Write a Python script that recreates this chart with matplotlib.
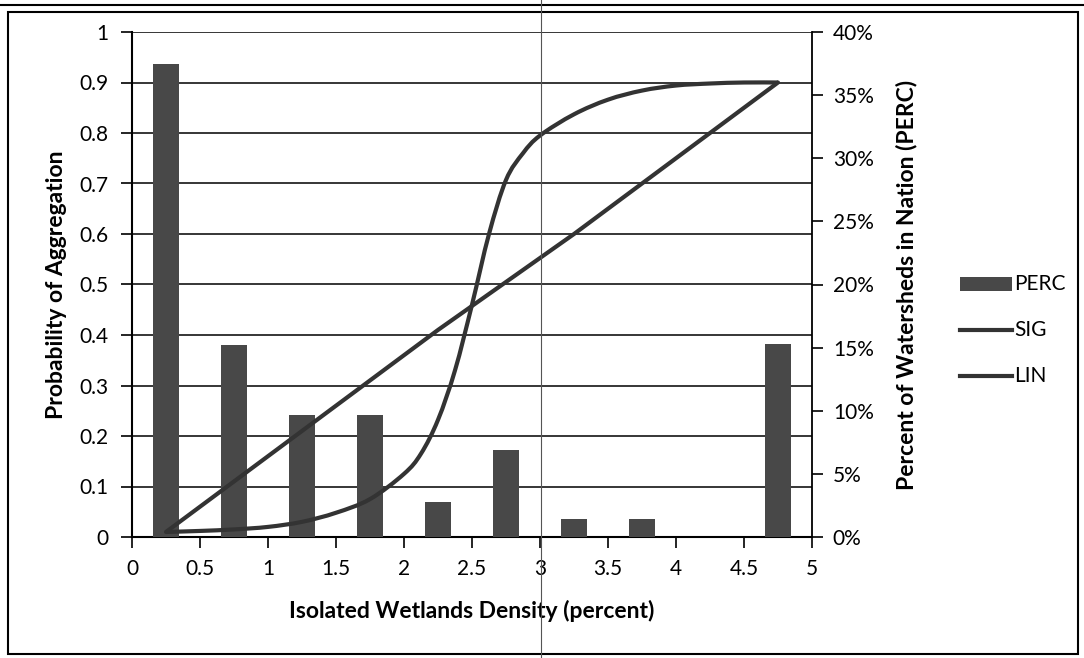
import matplotlib.pyplot as plt
from matplotlib.lines import Line2D
from matplotlib.patches import Rectangle, PathPatch
from matplotlib.path import Path
from matplotlib.ticker import FuncFormatter, MultipleLocator

plt.rcParams['font.family'] = ['Lato', 'DejaVu Sans']

# Données
bin_centers = [0.25, 0.75, 1.25, 1.75, 2.25, 2.75, 3.25, 3.75, 4.25, 4.75]
perc = [37.5, 15.2, 9.7, 9.7, 2.8, 6.9, 1.4, 1.4, 0.0, 15.3]   # % des bassins
lin = [0.01, 0.11, 0.21, 0.31, 0.41, 0.505, 0.60, 0.70, 0.80, 0.90]

sig_x = [0.25, 0.5, 0.75, 1.0, 1.25, 1.5, 1.75, 2.0, 2.125, 2.25, 2.375, 2.5,
         2.625, 2.75, 2.875, 3.0, 3.25, 3.5, 3.75, 4.0, 4.25, 4.5, 4.75]
sig = [0.01, 0.012, 0.015, 0.02, 0.03, 0.048, 0.075, 0.125, 0.165, 0.232, 0.33,
       0.46, 0.60, 0.707, 0.76, 0.795, 0.837, 0.866, 0.884, 0.894, 0.898, 0.90, 0.90]

x_ticks = [0, 0.5, 1, 1.5, 2, 2.5, 3, 3.5, 4, 4.5, 5]
legend_labels = ['PERC', 'SIG', 'LIN']

bar_col = '#484848'
line_col = '#333333'
W, H = 1084, 658


# Courbe lissée (style Excel) : Catmull-Rom -> Bézier
def smooth_path(xs, ys):
    pts = list(zip(xs, ys))
    verts = [pts[0]]
    codes = [Path.MOVETO]
    n = len(pts)
    for i in range(n - 1):
        p0 = pts[i - 1] if i > 0 else pts[i]
        p1 = pts[i]
        p2 = pts[i + 1]
        p3 = pts[i + 2] if i + 2 < n else pts[i + 1]
        c1 = (p1[0] + (p2[0] - p0[0]) / 6, p1[1] + (p2[1] - p0[1]) / 6)
        c2 = (p2[0] - (p3[0] - p1[0]) / 6, p2[1] - (p3[1] - p1[1]) / 6)
        verts += [c1, c2, p2]
        codes += [Path.CURVE4] * 3
    return Path(verts, codes)


fig = plt.figure(figsize=(W / 100, H / 100), dpi=100)
fig.patch.set_facecolor('white')

ax = fig.add_axes([132 / W, 1 - 537 / H, 680 / W, 505 / H])
ax2 = ax.twinx()

# Axe gauche : grille
ax.set_xlim(0, 5)
ax.set_ylim(0, 1)
ax.yaxis.set_major_locator(MultipleLocator(0.1))
ax.set_xticks(x_ticks)
ax.grid(axis='y', color='black', linewidth=1.1)
ax.set_axisbelow(True)
ax.xaxis.set_major_formatter(FuncFormatter(lambda v, p: f"{v:g}"))
ax.yaxis.set_major_formatter(FuncFormatter(lambda v, p: f"{round(v, 1):g}"))

# Axe droit : barres + courbes
ax2.set_ylim(0, 40)
ax2.yaxis.set_major_locator(MultipleLocator(5))
ax2.yaxis.set_major_formatter(FuncFormatter(lambda v, p: f"{int(v)}%"))
ax2.bar(bin_centers, perc, width=0.19, color=bar_col, zorder=2)
ax2.add_patch(PathPatch(smooth_path(sig_x, sig), facecolor='none', edgecolor=line_col,
                        linewidth=3, transform=ax.transData, zorder=3))
ax2.plot(bin_centers, lin, color=line_col, linewidth=3, transform=ax.transData,
         zorder=3, solid_capstyle='round')
ax2.set_ylim(0, 40)
ax2.set_xlim(0, 5)

for a in (ax, ax2):
    a.spines['top'].set_visible(False)
    a.tick_params(direction='out', length=8, width=1.2, labelsize=15, colors='black')
ax.spines['right'].set_visible(False)
ax2.spines['left'].set_visible(False)
ax2.spines['bottom'].set_visible(False)
ax.spines['left'].set_linewidth(1.5)
ax.spines['bottom'].set_linewidth(1.5)
ax2.spines['right'].set_linewidth(1.3)
ax.tick_params(axis='x', pad=8)
ax.tick_params(axis='y', pad=9)
ax2.tick_params(axis='y', pad=7)

ax.set_xlabel("Isolated Wetlands Density (percent)", fontsize=16.5, fontweight='bold', labelpad=15)
ax.set_ylabel("Probability of Aggregation", fontsize=16.5, fontweight='bold', labelpad=9)
ax2.set_ylabel("Percent of Watersheds in Nation (PERC)", fontsize=16.5, fontweight='bold', labelpad=16)

# Légende dessinée à la main (positions en pixels)
leg_y = [284, 330, 376]
fig.add_artist(Rectangle((960 / W, 1 - 291 / H), 52 / W, 14 / H,
                         transform=fig.transFigure, facecolor=bar_col, edgecolor='none'))
for y in leg_y[1:]:
    fig.add_artist(Line2D([960 / W, 1012 / W], [1 - y / H, 1 - y / H],
                          transform=fig.transFigure, color=line_col, linewidth=3))
for lab, y in zip(legend_labels, leg_y):
    fig.text(1014 / W, 1 - y / H, lab, fontsize=15, va='center', ha='left')

# Cadre extérieur et traits du scan
fig.add_artist(Rectangle((8 / W, 1 - 654 / H), 1070 / W, 642 / H,
                         transform=fig.transFigure, fill=False,
                         edgecolor='black', linewidth=1.5))
fig.add_artist(Line2D([0, 1], [1 - 5 / H, 1 - 5 / H], transform=fig.transFigure,
                      color='black', linewidth=1.5))
fig.add_artist(Line2D([541 / W, 541 / W], [0, 1], transform=fig.transFigure,
                      color='#555555', linewidth=0.8))

fig.savefig("out.png", dpi=100)
